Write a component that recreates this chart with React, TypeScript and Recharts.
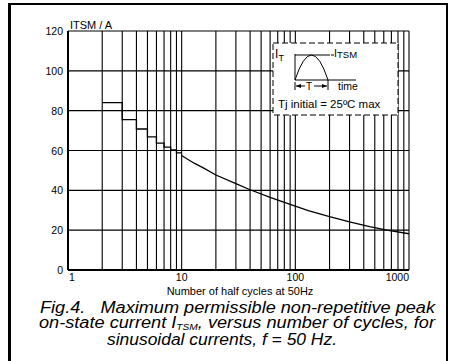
import { CartesianGrid, Line, LineChart, XAxis, YAxis } from "recharts";

const X_GRID = [1, 2, 3, 4, 5, 6, 7, 8, 9, 10, 20, 30, 40, 50, 60, 70, 80, 90, 100, 200, 300, 400, 500, 600, 700, 800, 900, 1000];
const X_LABELS = [1, 10, 100, 1000];
const Y_TICKS = [0, 20, 40, 60, 80, 100, 120];

// staircase for the first few half cycles
const STEP_N = [2, 3, 4, 5, 6, 7, 8, 9, 10];
const STEP_I = [84, 75.5, 70.8, 66.8, 63.7, 61.7, 60.3, 58.8, 58.8];

// smooth tail
const CURVE_N = [10, 11, 13, 15.5, 20, 30, 40, 60, 90, 130, 200, 300, 450, 640, 1000];
const CURVE_I = [57.5, 56, 53.5, 51.3, 47.7, 43.4, 40.3, 36.5, 33, 29.8, 26.8, 24.2, 21.8, 20, 18.2];

const stepData = STEP_N.map((n, k) => ({ n, i: STEP_I[k] }));
const curveData = CURVE_N.map((n, k) => ({ n, i: CURVE_I[k] }));

const FONT = "'Liberation Sans', Arial, Helvetica, sans-serif";

function XTick(props: any) {
  const { x, payload } = props;
  const v = payload.value;
  if (!X_LABELS.includes(v)) return <g />;
  const anchor = v === 1 ? "start" : v === 1000 ? "end" : "middle";
  return (
    <text x={v === 1 ? x + 1 : x} y={281} textAnchor={anchor} fontSize={10.5} fontFamily={FONT} fill="#000">
      {v}
    </text>
  );
}

function YTick(props: any) {
  const { y, payload } = props;
  return (
    <text x={63} y={y + 4} textAnchor="end" fontSize={10.5} fontFamily={FONT} fill="#000">
      {payload.value}
    </text>
  );
}

function Overlay() {
  return (
    <svg
      width={450}
      height={361}
      style={{ position: "absolute", left: 0, top: 0, pointerEvents: "none" }}
      fontFamily={FONT}
    >
      {/* frame */}
      <line x1={9.5} y1={3} x2={9.5} y2={361} stroke="#000" strokeWidth={3} />
      <line x1={8} y1={4} x2={448} y2={4} stroke="#000" strokeWidth={2} />
      <line x1={447} y1={3} x2={447} y2={361} stroke="#000" strokeWidth={2} />

      <text x={70} y={29} fontSize={11} fill="#000">ITSM / A</text>
      <text x={240} y={294.5} fontSize={11} textAnchor="middle" fill="#000">Number of half cycles at 50Hz</text>

      {/* inset */}
      <rect x={273} y={43} width={125} height={72} fill="#fff" stroke="#000" strokeWidth={1} strokeDasharray="6 3" />
      <text x={275} y={58} fontSize={12} fill="#000">I</text>
      <text x={278.5} y={61} fontSize={9} fill="#000">T</text>
      <line x1={295} y1={54} x2={295} y2={80} stroke="#000" strokeWidth={1} />
      <line x1={295} y1={55} x2={330} y2={55} stroke="#000" strokeWidth={1} />
      <line x1={331} y1={55} x2={334} y2={55} stroke="#000" strokeWidth={1} />
      <text x={334} y={57} fontSize={10.5} fill="#000">I</text>
      <text x={337} y={58} fontSize={9.5} fill="#000">TSM</text>
      <path d="M295,80 Q311.5,30 328,80" fill="none" stroke="#000" strokeWidth={1} />
      <line x1={295} y1={80} x2={356} y2={80} stroke="#000" strokeWidth={1} />
      <line x1={295} y1={82} x2={295} y2={90} stroke="#000" strokeWidth={1} />
      <line x1={328} y1={80} x2={328} y2={90} stroke="#000" strokeWidth={1} />
      <line x1={296} y1={86} x2={305} y2={86} stroke="#000" strokeWidth={1} />
      <path d="M296,86 L301,84 L301,88 Z" fill="#000" />
      <text x={309} y={90} fontSize={10} textAnchor="middle" fill="#000">T</text>
      <line x1={314} y1={86} x2={327} y2={86} stroke="#000" strokeWidth={1} />
      <path d="M327,86 L322,84 L322,88 Z" fill="#000" />
      <text x={338} y={90} fontSize={10.5} fill="#000">time</text>
      <text x={278} y={108} fontSize={11.5} fill="#000">Tj initial = 25ºC max</text>

      {/* caption */}
      <g fontStyle="italic" fontSize={16} fill="#000">
        <text x={40} y={312.5} textLength={395} lengthAdjust="spacingAndGlyphs">
          Fig.4.{"\u00a0\u00a0\u00a0"}Maximum permissible non-repetitive peak
        </text>
        <text x={39} y={328} textLength={396} lengthAdjust="spacingAndGlyphs">
          on-state current I
          <tspan fontSize={9} dy={1.5}>TSM</tspan>
          <tspan dy={-1.5}>, versus number of cycles, for</tspan>
        </text>
        <text x={107} y={344.5} textLength={230} lengthAdjust="spacingAndGlyphs">
          sinusoidal currents, f = 50 Hz.
        </text>
      </g>
    </svg>
  );
}

export default function App() {
  return (
    <div style={{ position: "absolute", left: 0, top: 0, width: 450, height: 361, background: "#fff" }}>
      <LineChart width={450} height={361} margin={{ top: 31, right: 41, left: 8, bottom: 71 }}>
        <CartesianGrid stroke="#000" strokeWidth={1.1} />
        <XAxis
          dataKey="n"
          type="number"
          scale="log"
          domain={[1, 1000]}
          ticks={X_GRID}
          interval={0}
          height={20}
          tickSize={0}
          tickLine={false}
          tick={<XTick />}
          axisLine={{ stroke: "#000", strokeWidth: 2 }}
          allowDataOverflow
        />
        <YAxis
          type="number"
          domain={[0, 120]}
          ticks={Y_TICKS}
          width={60}
          tickSize={0}
          tickLine={false}
          tick={<YTick />}
          axisLine={{ stroke: "#000", strokeWidth: 2 }}
          allowDataOverflow
        />
        <Line
          data={stepData}
          dataKey="i"
          type="stepAfter"
          stroke="#000"
          strokeWidth={1.3}
          dot={false}
          isAnimationActive={false}
        />
        <Line
          data={curveData}
          dataKey="i"
          type="linear"
          stroke="#000"
          strokeWidth={1.3}
          dot={false}
          isAnimationActive={false}
        />
      </LineChart>
      <Overlay />
    </div>
  );
}
